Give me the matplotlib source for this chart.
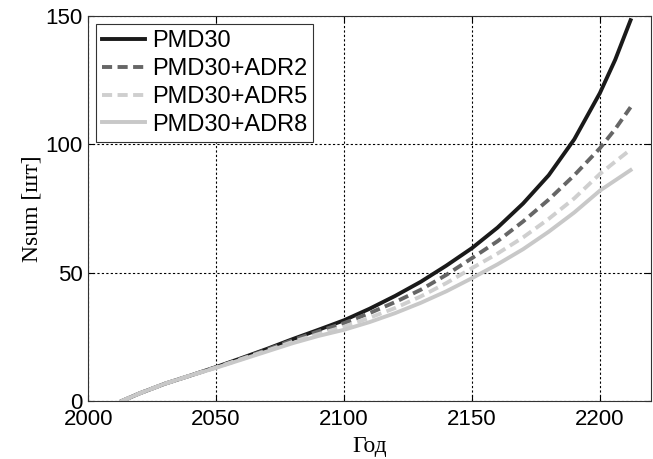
import matplotlib.pyplot as plt

years = [2013, 2020, 2030, 2040, 2050, 2060, 2070, 2080, 2090, 2100, 2110,
         2120, 2130, 2140, 2150, 2160, 2170, 2180, 2190, 2200, 2206, 2212]
pmd30 = [0, 3, 6.8, 10, 13.3, 16.8, 20.4, 24.2, 27.8, 31.5, 36, 41, 46.5,
         52.8, 59.6, 67.6, 77, 88, 102, 120, 133, 148.4]
adr2 = [0, 3, 6.8, 10, 13.2, 16.6, 20.1, 23.8, 27.2, 30.4, 34.3, 38.6, 43.4,
        49.2, 55.7, 62.3, 70, 78.5, 88, 98.5, 106, 114.5]
adr5 = [0, 3, 6.8, 10, 13.1, 16.4, 19.7, 23.1, 26.1, 29, 32.5, 36.3, 40.8,
        46, 51.8, 57.5, 63.8, 71, 79, 88.5, 93.3, 98]
adr8 = [0, 3, 6.8, 10, 13, 16.2, 19.4, 22.6, 25.4, 27.8, 30.8, 34.3, 38.3,
        42.8, 47.9, 53.3, 59.2, 66, 73.5, 82, 86, 90]

fig = plt.figure(figsize=(6.53, 4.59), dpi=100)
ax = fig.add_axes([0.135, 0.126, 0.862, 0.839])

ax.plot(years, pmd30, color='#1a1a1a', lw=2.8, label='PMD30')
ax.plot(years, adr2, color='#666666', lw=2.8, ls=(0, (2.6, 1.4)), label='PMD30+ADR2')
ax.plot(years, adr5, color='#cfcfcf', lw=2.8, ls=(0, (2.6, 1.4)), label='PMD30+ADR5')
ax.plot(years, adr8, color='#c8c8c8', lw=2.8, label='PMD30+ADR8')

ax.set_xlim(2000, 2220)
ax.set_ylim(0, 150)
ax.set_xticks([2000, 2050, 2100, 2150, 2200])
ax.set_yticks([0, 50, 100, 150])
ax.tick_params(labelsize=16, direction='in', length=4, top=True, right=True)
ax.tick_params(axis='x', pad=6)
ax.tick_params(axis='y', pad=4)
for t in ax.get_xticklabels() + ax.get_yticklabels():
    t.set_family('Liberation Sans')
for s in ax.spines.values():
    s.set_color('#333333')
ax.grid(True, color='black', ls=(0, (2, 2)), lw=0.8)

ax.set_xlabel('Год', family='Liberation Serif', fontsize=17, labelpad=4)
ax.set_ylabel('Nsum [шт]', family='Liberation Serif', fontsize=17, labelpad=2)

leg = ax.legend(loc='upper left', prop={'family': 'Liberation Sans', 'size': 17},
                fancybox=False, framealpha=1, edgecolor='#333333',
                handlelength=1.8, borderaxespad=0.34, labelspacing=0.25,
                handletextpad=0.3, borderpad=0.25)
leg.get_frame().set_linewidth(0.8)

plt.savefig('out.png')
